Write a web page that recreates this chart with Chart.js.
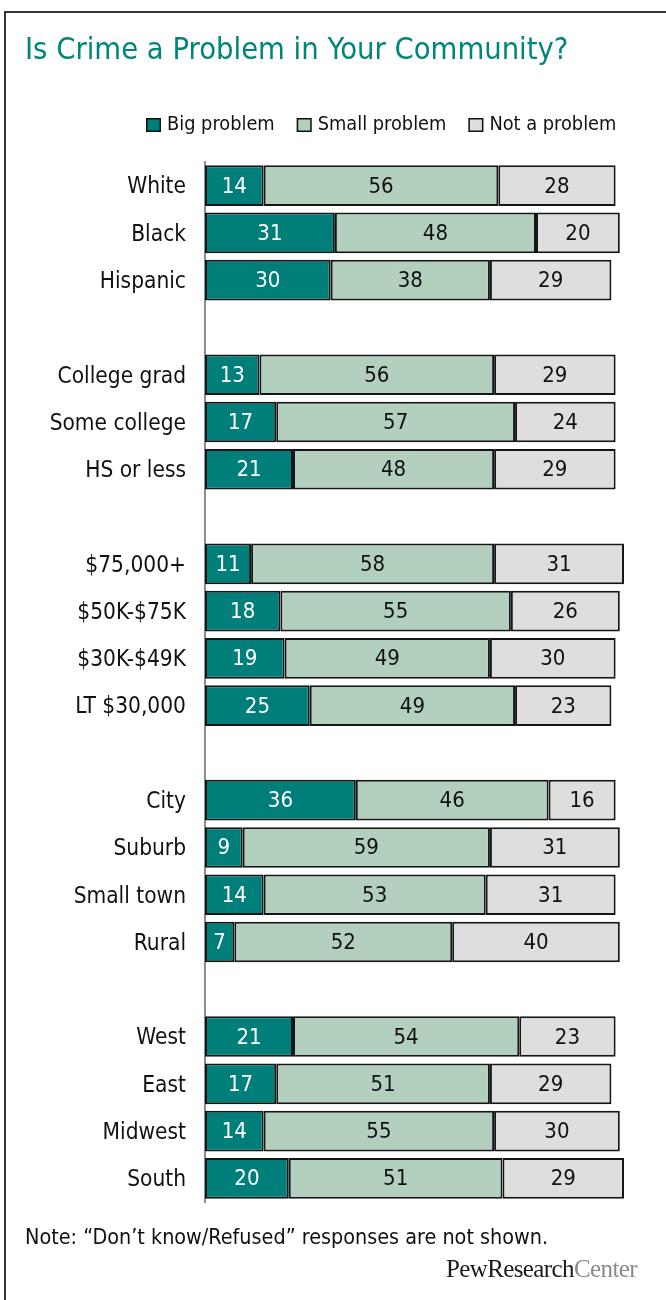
<!DOCTYPE html>
<html>
<head>
<meta charset="utf-8">
<title>Is Crime a Problem in Your Community?</title>
<script src="https://cdn.jsdelivr.net/npm/chart.js@4.4.1/dist/chart.umd.min.js"></script>
<style>
  body { margin: 0; background: #fff; }
  #page { position: relative; width: 666px; height: 1300px; overflow: hidden; font-family: "DejaVu Sans Condensed", "DejaVu Sans", sans-serif; }
  #frame { position: absolute; left: 4px; top: 11px; width: 720px; height: 1340px; border-left: 2px solid #333; border-top: 2px solid #333; }
  #chart { position: absolute; left: 0; top: 0; }
  h1 { position: absolute; left: 25px; top: 34px; margin: 0; font-size: 30.6px; line-height: 30px; font-weight: normal; color: #00857d; white-space: nowrap; }
  .note { position: absolute; left: 25px; top: 1226px; font-size: 21.4px; line-height: 21px; color: #111; white-space: nowrap; }
  .logo { position: absolute; right: 29px; top: 1256px; font-family: "Liberation Serif", "DejaVu Serif", serif; font-size: 25px; line-height: 25px; letter-spacing: -0.6px; color: #1a1a1a; white-space: nowrap; }
  .logo span { color: #8a8a8a; }
</style>
</head>
<body>
<div id="page">
  <div id="frame"></div>
  <canvas id="chart" width="666" height="1300"></canvas>
  <h1>Is Crime a Problem in Your Community?</h1>
  <div class="note">Note: “Don’t know/Refused” responses are not shown.</div>
  <div class="logo">PewResearch<span>Center</span></div>
</div>
<script>
// empty labels leave the gaps between groups
const categories = ["White", "Black", "Hispanic", "",
    "College grad", "Some college", "HS or less", "",
    "$75,000+", "$50K-$75K", "$30K-$49K", "LT $30,000", "",
    "City", "Suburb", "Small town", "Rural", "",
    "West", "East", "Midwest", "South"];

const bigProblem = [14, 31, 30, null, 13, 17, 21, null, 11, 18, 19, 25, null, 36, 9, 14, 7, null, 21, 17, 14, 20];
const smallProblem = [56, 48, 38, null, 56, 57, 48, null, 58, 55, 49, 49, null, 46, 59, 53, 52, null, 54, 51, 55, 51];
const notProblem = [28, 20, 29, null, 29, 24, 29, null, 31, 26, 30, 23, null, 16, 31, 31, 40, null, 23, 29, 30, 29];

const seriesNames = ["Big problem", "Small problem", "Not a problem"];
const seriesColors = ["#007e7a", "#b3d0be", "#dedede"];

const FONT = "'DejaVu Sans Condensed', 'DejaVu Sans', sans-serif";

// legend drawn above the bars
const legendPlugin = {
    id: "topLegend",
    afterDraw(chart) {
        const ctx = chart.ctx;
        ctx.save();
        ctx.font = "19.8px " + FONT;
        ctx.textBaseline = "alphabetic";
        let x = 146;
        chart.data.datasets.forEach(ds => {
            ctx.fillStyle = ds.backgroundColor;
            ctx.fillRect(x, 118, 15, 14);
            ctx.strokeStyle = "#111";
            ctx.lineWidth = 1.5;
            ctx.strokeRect(x + 0.75, 118.75, 13.5, 12.5);
            ctx.fillStyle = "#111";
            ctx.fillText(ds.label, x + 21, 130);
            x += 21 + ctx.measureText(ds.label).width + 22;
        });
        ctx.restore();
    }
};

// numbers in the middle of each segment
const valuePlugin = {
    id: "values",
    afterDatasetsDraw(chart) {
        const ctx = chart.ctx;
        ctx.save();
        ctx.font = "22px " + FONT;
        ctx.textAlign = "center";
        ctx.textBaseline = "alphabetic";
        chart.data.datasets.forEach((ds, i) => {
            chart.getDatasetMeta(i).data.forEach((bar, j) => {
                const v = ds.data[j];
                if (v == null) return;
                const p = bar.getProps(["x", "y", "base"], true);
                ctx.fillStyle = i === 0 ? "#fff" : "#111";
                ctx.fillText(String(v), (p.x + p.base) / 2, p.y + 7);
            });
        });
        ctx.restore();
    }
};

const ctx = document.getElementById("chart").getContext("2d");

new Chart(ctx, {
    type: "bar",
    data: {
        labels: categories,
        datasets: [bigProblem, smallProblem, notProblem].map((d, i) => ({
            label: seriesNames[i],
            data: d,
            backgroundColor: seriesColors[i],
            borderColor: "#161616",
            borderWidth: 2,
            borderSkipped: false,
            barPercentage: 0.86,
            categoryPercentage: 1
        }))
    },
    plugins: [legendPlugin, valuePlugin],
    options: {
        responsive: false,
        animation: false,
        devicePixelRatio: 1,
        indexAxis: "y",
        layout: {
            padding: { top: 162, bottom: 98, right: 42, left: 0 }
        },
        plugins: {
            legend: { display: false },
            tooltip: { enabled: false }
        },
        scales: {
            x: {
                stacked: true,
                min: 0,
                max: 100,
                display: false
            },
            y: {
                stacked: true,
                grid: { display: false, drawTicks: false },
                border: { display: true, color: "#8c8c8c", width: 2 },
                ticks: {
                    color: "#111",
                    padding: 19,
                    labelOffset: 2,
                    font: { family: FONT, size: 22.5 }
                },
                afterFit(scale) {
                    scale.width = 205;
                }
            }
        }
    }
});
</script>
</body>
</html>
